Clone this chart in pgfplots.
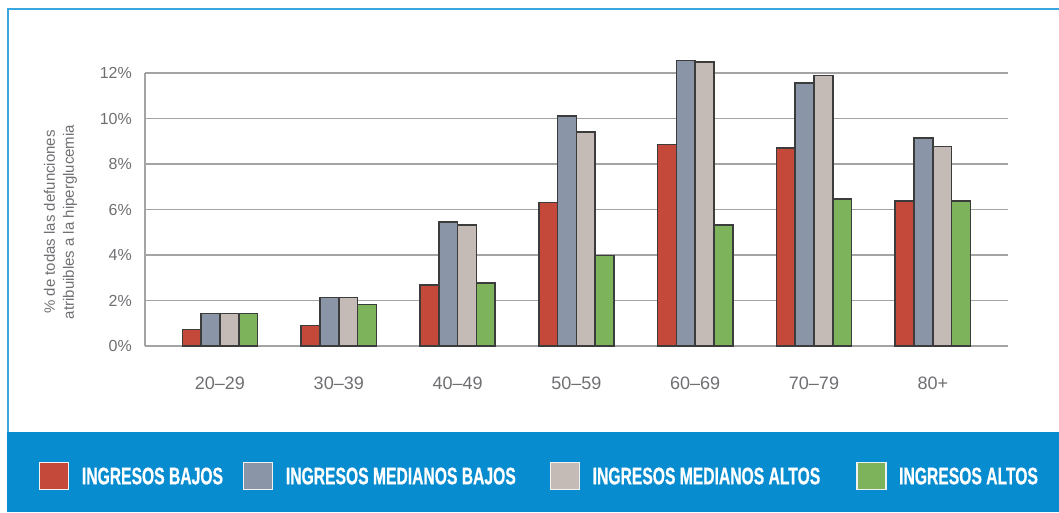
\documentclass[border=0pt]{standalone}
\usepackage{pgfplots}
\pgfplotsset{compat=1.18}
\usepackage{fontspec}
\setmainfont{Liberation Sans}
\newfontfamily\legfont[FakeStretch=0.653, UprightFont=* Bold, FakeBold=0.6]{Liberation Sans}

\definecolor{bajos}{HTML}{C4493A}
\definecolor{medbajos}{HTML}{8A95A7}
\definecolor{medaltos}{HTML}{C4BAB6}
\definecolor{altos}{HTML}{7DB35A}
\definecolor{band}{HTML}{078CD0}
\definecolor{frameblue}{HTML}{3AA6DE}
\definecolor{gridgray}{HTML}{A4A4A4}
\definecolor{textgray}{HTML}{6E6F72}
\definecolor{edge}{HTML}{3C3C3C}

\begin{document}
\begin{tikzpicture}[x=1pt,y=1pt]
\useasboundingbox (0,0) rectangle (1059,512);
% outer frame and legend band
\draw[frameblue, line width=2pt] (8,80) -- (8,503) -- (1070,503);
\fill[band] (7,0) rectangle (1070,80);

% y axis title
\node[rotate=90, align=center, text=textgray, font=\fontsize{15}{19}\selectfont, inner sep=0pt]
  at (60.5,290) {\% de todas las defunciones\\atribuibles a la hiperglucemia};

\begin{axis}[
  at={(145pt,166pt)}, anchor=south west,
  scale only axis, width=863pt, height=273pt,
  clip=false,
  ybar=0pt, bar width=18.8pt,
  xmin=-0.631, xmax=6.633,
  ymin=0, ymax=12,
  xtick={0,...,6},
  xticklabels={20–29,30–39,40–49,50–59,60–69,70–79,80+},
  ytick={0,2,...,12},
  yticklabels={0\%,2\%,4\%,6\%,8\%,10\%,12\%},
  axis lines*=left,
  axis line style={draw=gridgray, line width=1.4pt, -},
  ymajorgrids,
  grid style={draw=gridgray, line width=1.4pt},
  major tick length=0pt,
  tick style={draw=none},
  yticklabel style={inner sep=0pt, anchor=east, xshift=-13pt, text=textgray,
    font=\fontsize{16}{18}\selectfont},
  xticklabel style={inner sep=0pt, anchor=north, yshift=-31pt, text=textgray,
    font=\fontsize{18}{20}\selectfont},
  legend image code/.code={\draw[#1, draw=white!88!gray, line width=1.4pt]
    (0pt,-13.5pt) rectangle (29pt,13.5pt);},
  legend columns=4,
  legend style={
    at={(-0.1228,-0.476)}, anchor=west,
    draw=none, fill=none, inner sep=0pt, outer sep=0pt,
    text=white, font=\legfont\fontsize{24}{26}\selectfont,
    nodes={inner sep=0pt, text depth=0pt},
    /tikz/every odd column/.append style={column sep=12.5pt},
    /tikz/column 2/.append style={column sep=20pt},
    /tikz/column 4/.append style={column sep=34pt},
    /tikz/column 6/.append style={column sep=36pt},
  },
  every axis plot/.append style={draw=edge, line width=1.5pt},
]
\addplot[fill=bajos]    coordinates {(0,0.73) (1,0.90) (2,2.68) (3,6.30) (4,8.85) (5,8.70) (6,6.38)};
\addplot[fill=medbajos] coordinates {(0,1.43) (1,2.14) (2,5.45) (3,10.10) (4,12.56) (5,11.56) (6,9.15)};
\addplot[fill=medaltos] coordinates {(0,1.43) (1,2.14) (2,5.32) (3,9.40) (4,12.48) (5,11.89) (6,8.78)};
\addplot[fill=altos]    coordinates {(0,1.43) (1,1.82) (2,2.76) (3,3.98) (4,5.32) (5,6.46) (6,6.37)};
\legend{INGRESOS BAJOS, INGRESOS MEDIANOS BAJOS, INGRESOS MEDIANOS ALTOS, INGRESOS ALTOS}
\end{axis}
\end{tikzpicture}
\end{document}
